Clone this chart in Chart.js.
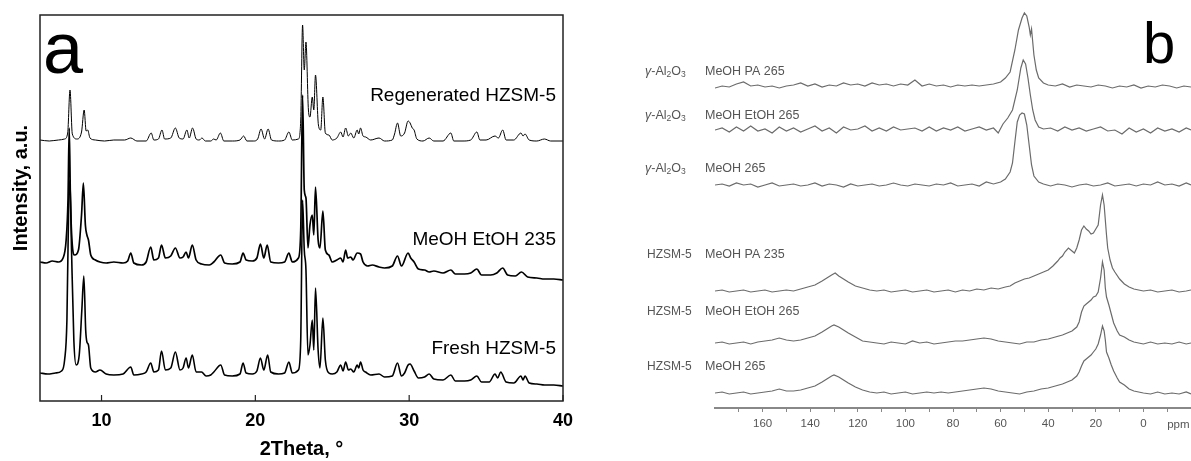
<!DOCTYPE html>
<html lang="en">
<head>
    <meta charset="UTF-8">
    <title>XRD and NMR of HZSM-5 / gamma-Al2O3</title>
    <style>
        body {
            margin: 0;
            background: #ffffff;
        }
        #wrap {
            position: relative;
            width: 1191px;
            height: 461px;
        }
        #chartA {
            position: absolute;
            left: 0;
            top: 0;
        }
        #chartB {
            position: absolute;
            left: 590px;
            top: 0;
        }
    </style>
    <script src="https://cdn.jsdelivr.net/npm/chart.js@4.4.0/dist/chart.umd.min.js"></script>
</head>
<body>

<div id="wrap">
    <canvas id="chartA" width="590" height="461"></canvas>
    <canvas id="chartB" width="601" height="461"></canvas>
</div>

<script>
    // ---------- panel a : XRD patterns, [2Theta (deg), stacked intensity]
    const xrdTicks = [10, 20, 30, 40];
    const xrdNames = ['Regenerated HZSM-5', 'MeOH EtOH 235', 'Fresh HZSM-5'];

    const regenerated = [[6.0,261],[6.6,260],[7.2,261],[7.6,262],[7.8,268],[7.95,311],[8.1,267],[8.4,262],[8.7,269],[8.87,291],[9.0,270],[9.1,271],[9.25,263],[9.6,261],[10.2,260],[10.8,261],[11.5,261],[11.9,263],[12.3,260],[12.9,260],[13.23,268],[13.4,261],[13.7,262],[13.93,271],[14.1,262],[14.5,263],[14.8,273],[15.05,263],[15.3,262],[15.55,271],[15.7,263],[15.92,273],[16.15,262],[16.35,261],[16.53,263],[16.75,260],[17.1,260],[17.29,262],[17.45,261],[17.73,268],[17.95,260],[18.5,260],[19.0,261],[19.24,265],[19.45,260],[19.9,260],[20.15,262],[20.37,272],[20.6,262],[20.83,272],[21.05,261],[21.5,260],[21.9,261],[22.18,269],[22.4,261],[22.8,262],[22.95,281],[23.07,376],[23.18,331],[23.29,359],[23.45,291],[23.55,284],[23.7,304],[23.8,291],[23.91,326],[24.1,276],[24.25,271],[24.39,304],[24.55,268],[24.78,266],[25.0,261],[25.3,263],[25.55,269],[25.7,264],[25.87,273],[26.05,265],[26.2,268],[26.4,263],[26.62,271],[26.72,267],[26.84,273],[27.0,265],[27.17,264],[27.5,261],[28.04,263],[28.4,260],[28.9,261],[29.05,267],[29.24,278],[29.45,265],[29.7,268],[29.93,280],[30.06,278],[30.2,273],[30.32,271],[30.5,262],[30.9,260],[31.3,263],[31.6,260],[32.2,260],[32.71,268],[32.9,260],[33.5,260],[34.0,261],[34.4,269],[34.6,261],[35.0,261],[35.58,265],[35.8,263],[36.08,271],[36.3,261],[36.8,261],[37.27,268],[37.4,265],[37.53,267],[37.8,261],[38.3,260],[38.79,262],[39.2,260],[40,260]];

    const meohEtoh235 = [[6.0,139],[6.4,138],[6.8,140],[7.2,139],[7.5,143],[7.7,161],[7.82,201],[7.9,273],[7.98,201],[8.1,156],[8.25,146],[8.5,151],[8.7,186],[8.82,218],[8.95,176],[9.05,166],[9.15,161],[9.3,146],[9.6,141],[9.9,139],[10.3,138],[10.8,139],[11.4,138],[11.7,140],[11.9,148],[12.1,138],[12.6,136],[12.9,139],[13.2,154],[13.4,141],[13.7,143],[13.9,156],[14.15,143],[14.5,145],[14.8,153],[15.1,143],[15.3,144],[15.5,149],[15.65,143],[15.9,156],[16.15,141],[16.5,137],[17.0,136],[17.3,139],[17.75,146],[18.0,138],[18.5,137],[19.0,139],[19.2,148],[19.4,141],[19.8,140],[20.1,143],[20.33,157],[20.55,143],[20.77,156],[21.0,139],[21.5,138],[21.9,139],[22.18,148],[22.4,139],[22.8,143],[22.95,171],[23.07,306],[23.18,211],[23.29,203],[23.42,153],[23.55,176],[23.7,186],[23.8,166],[23.91,214],[24.08,161],[24.2,153],[24.39,190],[24.55,151],[24.78,146],[25.0,139],[25.3,141],[25.55,143],[25.7,139],[25.87,151],[26.0,143],[26.2,144],[26.35,141],[26.62,148],[26.84,147],[27.0,139],[27.3,135],[27.6,136],[28.04,134],[28.4,133],[28.9,135],[29.24,145],[29.5,135],[29.93,148],[30.1,143],[30.32,139],[30.6,132],[31.0,131],[31.3,129],[31.6,130],[32.2,128],[32.71,131],[33.0,127],[33.6,127],[34.0,128],[34.4,132],[34.7,126],[35.3,126],[35.7,128],[36.08,133],[36.4,126],[36.9,125],[37.3,129],[37.7,124],[38.3,123],[38.8,122],[39.4,122],[40,121]];

    const freshHzsm5 = [[6.0,28],[6.5,27],[7.0,28],[7.4,30],[7.6,41],[7.75,81],[7.87,201],[7.95,221],[8.05,151],[8.2,61],[8.35,36],[8.55,46],[8.72,91],[8.85,125],[8.97,71],[9.05,59],[9.15,56],[9.3,33],[9.6,29],[9.9,31],[10.3,27],[10.8,26],[11.4,27],[11.9,34],[12.1,26],[12.6,27],[12.9,29],[13.2,38],[13.4,29],[13.7,31],[13.9,50],[14.15,31],[14.5,33],[14.8,49],[15.1,31],[15.3,33],[15.5,43],[15.65,33],[15.9,46],[16.15,29],[16.5,29],[16.8,25],[17.1,26],[17.3,29],[17.75,36],[18.0,26],[18.5,25],[19.0,27],[19.2,38],[19.4,28],[19.8,27],[20.1,30],[20.33,43],[20.55,31],[20.8,46],[21.0,29],[21.5,27],[21.9,28],[22.18,39],[22.4,28],[22.8,31],[22.95,61],[23.07,201],[23.18,151],[23.29,131],[23.42,46],[23.55,56],[23.7,81],[23.8,51],[23.91,113],[24.08,51],[24.2,33],[24.39,83],[24.55,41],[24.78,28],[25.0,27],[25.3,29],[25.55,36],[25.7,30],[25.87,39],[26.05,31],[26.2,32],[26.4,29],[26.62,36],[26.72,33],[26.84,39],[27.0,31],[27.17,29],[27.5,26],[28.04,27],[28.4,24],[28.9,25],[29.24,38],[29.5,25],[29.7,28],[29.93,36],[30.06,37],[30.32,30],[30.6,23],[31.0,24],[31.3,27],[31.6,22],[32.2,21],[32.71,26],[33.0,20],[33.6,20],[34.0,21],[34.4,25],[34.7,19],[35.2,19],[35.58,27],[35.75,23],[35.95,29],[36.3,19],[36.8,18],[37.27,25],[37.4,21],[37.53,25],[37.8,18],[38.3,17],[38.8,16],[39.4,16],[40,15]];

    // ---------- panel b : 13C NMR spectra, [ppm, stacked intensity]
    const ppmTicks = [160, 140, 120, 100, 80, 60, 40, 20, 0];
    const ppmMinor = [170, 160, 150, 140, 130, 120, 110, 100, 90, 80, 70, 60, 50, 40, 30, 20, 10, 0, -10];
    const nmrSupports = ['Al2O3', 'Al2O3', 'Al2O3', 'HZSM-5', 'HZSM-5', 'HZSM-5'];
    const nmrFeeds = ['MeOH PA 265', 'MeOH EtOH 265', 'MeOH 265', 'MeOH PA 235', 'MeOH EtOH 265', 'MeOH 265'];

    const alMeohPa265 = [[180,320],[177,322],[174,321],[171,324],[168,326],[165,322],[162,323],[159,321],[156,322],[153,320],[150,322],[147,323],[144,325],[141,322],[138,324],[135,321],[132,323],[129,322],[126,325],[123,323],[120,324],[117,322],[114,325],[111,323],[108,324],[105,322],[102,324],[99,323],[96,328],[93,322],[90,324],[87,322],[84,323],[81,321],[78,323],[75,322],[72,323],[69,322],[66,323],[63,324],[60,326],[58,330],[56,336],[54,358],[52.5,378],[51,390],[50,395],[49,392],[48,381],[47.5,373],[47,379],[46.5,366],[46,353],[45,338],[44,330],[42,325],[40,323],[37,322],[34,324],[31,321],[28,323],[25,322],[22,321],[19,323],[16,322],[13,320],[10,322],[7,321],[4,323],[1,320],[-2,322],[-5,321],[-8,323],[-11,322],[-14,320],[-17,322],[-20,321]];

    const alMeohEtoh265 = [[180,278],[177,280],[174,276],[171,281],[168,277],[165,282],[162,277],[159,279],[156,275],[153,281],[150,277],[147,280],[144,276],[141,279],[138,282],[135,277],[132,280],[129,275],[126,281],[123,278],[120,279],[117,282],[114,277],[111,280],[108,277],[105,281],[102,278],[99,279],[96,280],[93,277],[90,281],[87,277],[84,280],[81,278],[78,281],[75,277],[72,279],[69,281],[66,278],[63,280],[61,275],[59,284],[57,290],[55,298],[53,318],[51.5,340],[50.5,348],[49.5,344],[48.5,330],[47.5,313],[46.5,298],[45.5,288],[44,281],[42,279],[39,280],[36,277],[33,281],[30,278],[27,280],[24,277],[21,279],[18,281],[15,277],[12,278],[9,274],[6,280],[3,276],[0,279],[-3,275],[-6,280],[-9,277],[-12,279],[-15,276],[-18,280],[-20,278]];

    const alMeoh265 = [[180,223],[177,224],[174,222],[171,225],[168,223],[165,224],[162,221],[159,223],[156,225],[153,222],[150,223],[147,224],[144,222],[141,223],[138,225],[135,222],[132,224],[129,223],[126,221],[123,224],[120,222],[117,223],[114,224],[111,222],[108,223],[105,225],[102,223],[99,222],[96,224],[93,223],[90,222],[87,224],[84,223],[81,225],[78,222],[75,223],[72,224],[69,222],[66,226],[63,224],[60,226],[58,229],[56,236],[55,245],[54,266],[53,286],[52,293],[51,295],[50,294],[49,283],[48,263],[47,243],[46,232],[44,226],[42,224],[39,222],[36,224],[33,223],[30,221],[27,223],[24,224],[21,222],[18,223],[15,225],[12,222],[9,223],[6,224],[3,222],[0,224],[-3,223],[-6,226],[-9,223],[-12,224],[-15,222],[-18,225],[-20,223]];

    const zsmMeohPa235 = [[180,117],[177,118],[174,116],[171,117],[168,118],[165,116],[162,117],[159,118],[156,116],[153,117],[150,118],[147,117],[144,119],[141,121],[138,123],[135,127],[133,130],[131,133],[129.5,135],[128,132],[126,129],[124,126],[121,122],[118,120],[115,118],[112,117],[109,118],[106,116],[103,117],[100,118],[97,116],[94,117],[91,118],[88,116],[85,117],[82,118],[79,116],[76,118],[73,117],[70,119],[67,118],[64,120],[61,119],[58,121],[56,122],[54,125],[52,127],[50,129],[48,130],[46,132],[44,134],[42,136],[40,138],[38,142],[36,147],[35,150],[34,152],[33,156],[31.5,160],[30,157],[29,155],[28,160],[27,168],[26,178],[25,182],[24,179],[23,177],[22,174],[21,175],[20,179],[19,183],[18,203],[17.2,213],[16.5,203],[15.5,173],[15,160],[14,148],[13,140],[12,136],[10,129],[8,124],[6,121],[4,119],[2,118],[0,117],[-3,118],[-6,116],[-9,117],[-12,118],[-15,116],[-18,117],[-20,118]];

    const zsmMeohEtoh265 = [[180,65],[177,66],[174,64],[171,65],[168,66],[165,64],[162,66],[159,67],[156,68],[153,70],[150,68],[147,67],[144,68],[141,70],[138,72],[135,76],[133,79],[131,82],[130,83],[128,81],[126,78],[124,75],[121,71],[118,67],[115,66],[112,65],[109,64],[106,66],[103,65],[100,64],[97,67],[94,65],[91,66],[88,64],[85,65],[82,66],[79,67],[76,67],[73,68],[70,69],[67,70],[64,69],[61,67],[58,66],[55,65],[52,64],[49,66],[46,66],[43,68],[40,69],[37,71],[34,73],[32,75],[30,77],[28,81],[27,86],[26,96],[25,102],[24,104],[23,106],[22,108],[21,111],[20,112],[19,116],[18,130],[17.2,146],[16.5,138],[16,120],[15.5,111],[14.5,103],[13.5,94],[12.5,85],[11,77],[10,73],[8,71],[6,68],[4,66],[2,65],[0,64],[-3,66],[-6,64],[-9,65],[-12,64],[-15,66],[-18,64],[-20,65]];

    const zsmMeoh265 = [[180,15],[177,16],[174,14],[171,15],[168,16],[165,14],[162,15],[159,16],[156,17],[153,19],[150,17],[147,17],[144,18],[141,20],[138,22],[135,26],[133,29],[131,32],[130,33],[128,31],[126,28],[124,25],[121,21],[118,18],[115,16],[112,15],[109,16],[106,14],[103,15],[100,16],[97,14],[94,15],[91,16],[88,15],[85,16],[82,15],[79,16],[76,17],[73,18],[70,19],[67,20],[64,19],[61,17],[58,16],[55,15],[52,14],[49,16],[46,17],[43,19],[40,20],[37,22],[34,24],[32,26],[30,28],[28,32],[27,36],[26,42],[25,47],[24,49],[23,51],[22,53],[21,56],[20,59],[19,64],[18,73],[17.2,82],[16.5,77],[16,68],[15.5,56],[14.5,50],[13.5,43],[12.5,37],[11,30],[10,26],[8,23],[6,19],[4,17],[2,16],[0,15],[-3,14],[-6,16],[-9,14],[-12,15],[-15,14],[-18,16],[-20,14]];

    const FONT = '"Liberation Sans", Arial, sans-serif';
    const toXY = pts => pts.map(p => ({ x: p[0], y: p[1] }));

    function trace(pts, color, width, smooth) {
        const ds = {
            data: toXY(pts),
            borderColor: color,
            borderWidth: width,
            pointRadius: 0,
            fill: false,
            tension: 0
        };
        if (smooth) ds.cubicInterpolationMode = 'monotone';
        return ds;
    }

    // frame, inner ticks and texts of panel a
    const panelA = {
        id: 'panelA',
        afterDraw(chart) {
            const { ctx, chartArea: a, scales } = chart;
            ctx.save();
            ctx.strokeStyle = '#222';
            ctx.lineWidth = 1.5;
            ctx.strokeRect(a.left, a.top, a.right - a.left, a.bottom - a.top);
            ctx.lineWidth = 1.2;
            xrdTicks.forEach(v => {
                const px = scales.x.getPixelForValue(v);
                ctx.beginPath();
                ctx.moveTo(px, a.bottom);
                ctx.lineTo(px, a.bottom - 6);
                ctx.stroke();
            });
            ctx.fillStyle = '#000';
            ctx.font = '72px ' + FONT;
            ctx.textBaseline = 'alphabetic';
            ctx.fillText('a', 43, 73);
            ctx.font = '19px ' + FONT;
            ctx.textAlign = 'right';
            ctx.textBaseline = 'middle';
            const labelY = [96, 240, 349];
            xrdNames.forEach((t, i) => ctx.fillText(t, a.right - 7, labelY[i]));
            // y axis title, a bit above the middle as in the original
            ctx.translate(21, 188);
            ctx.rotate(-Math.PI / 2);
            ctx.textAlign = 'center';
            ctx.font = 'bold 20px ' + FONT;
            ctx.fillText('Intensity, a.u.', 0, 0);
            ctx.restore();
        }
    };

    // draws "γ-Al2O3" with real subscripts
    function drawAl2O3(ctx, x, y) {
        const parts = [
            ['γ', 'italic 12.5px ' + FONT, 0],
            ['-Al', '12.5px ' + FONT, 0],
            ['2', '8.5px ' + FONT, 3],
            ['O', '12.5px ' + FONT, 0],
            ['3', '8.5px ' + FONT, 3]
        ];
        parts.forEach(p => {
            ctx.font = p[1];
            ctx.fillText(p[0], x, y + p[2]);
            x += ctx.measureText(p[0]).width;
        });
    }

    const panelB = {
        id: 'panelB',
        afterDraw(chart) {
            const { ctx, scales } = chart;
            ctx.save();
            ctx.fillStyle = '#000';
            ctx.font = '58px ' + FONT;
            ctx.textBaseline = 'alphabetic';
            ctx.fillText('b', 553, 63);
            ctx.fillStyle = '#555';
            ctx.textBaseline = 'middle';
            const rowY = [72, 116, 169, 255, 312, 367];
            nmrFeeds.forEach((t, i) => {
                if (nmrSupports[i] === 'Al2O3') {
                    drawAl2O3(ctx, 55, rowY[i]);
                } else {
                    ctx.font = '12px ' + FONT;
                    ctx.fillText(nmrSupports[i], 57, rowY[i]);
                }
                ctx.font = '12.5px ' + FONT;
                ctx.fillText(t, 115, rowY[i]);
            });
            ctx.font = '11.5px ' + FONT;
            ctx.fillText('ppm', scales.x.getPixelForValue(-10), 425);
            ctx.restore();
        }
    };

    new Chart(document.getElementById('chartA'), {
        type: 'line',
        data: {
            datasets: [
                trace(regenerated, '#000', 1, true),
                trace(meohEtoh235, '#000', 1.7, true),
                trace(freshHzsm5, '#000', 1.6, true)
            ]
        },
        options: {
            responsive: false,
            animation: false,
            layout: { padding: { top: 15, right: 27, left: 0, bottom: 0 } },
            plugins: { legend: { display: false }, tooltip: { enabled: false } },
            scales: {
                x: {
                    type: 'linear',
                    min: 6,
                    max: 40,
                    afterBuildTicks: s => { s.ticks = xrdTicks.map(v => ({ value: v })); },
                    ticks: { color: '#000', padding: 1, maxRotation: 0, font: { family: FONT, size: 18, weight: 'bold' } },
                    grid: { display: false },
                    border: { display: false },
                    title: {
                        display: true,
                        text: '2Theta, °',
                        color: '#000',
                        padding: { top: 0, bottom: 0 },
                        font: { family: FONT, size: 20, weight: 'bold' }
                    },
                    afterFit: s => { s.height = 60; }
                },
                y: {
                    min: 0,
                    max: 386,
                    ticks: { display: false },
                    grid: { display: false },
                    border: { display: false },
                    afterFit: s => { s.width = 40; }
                }
            }
        },
        plugins: [panelA]
    });

    const nmrGray = '#6b6b6b';
    new Chart(document.getElementById('chartB'), {
        type: 'line',
        data: {
            datasets: [
                trace(alMeohPa265, nmrGray, 1.2, false),
                trace(alMeohEtoh265, nmrGray, 1.2, false),
                trace(alMeoh265, nmrGray, 1.2, false),
                trace(zsmMeohPa235, nmrGray, 1.2, false),
                trace(zsmMeohEtoh265, nmrGray, 1.2, false),
                trace(zsmMeoh265, nmrGray, 1.2, false)
            ]
        },
        options: {
            responsive: false,
            animation: false,
            layout: { padding: { top: 0, right: 0, left: 125, bottom: 0 } },
            plugins: { legend: { display: false }, tooltip: { enabled: false } },
            scales: {
                x: {
                    type: 'linear',
                    reverse: true,
                    min: -20,
                    max: 180,
                    afterBuildTicks: s => { s.ticks = ppmMinor.map(v => ({ value: v })); },
                    ticks: {
                        autoSkip: false,
                        maxRotation: 0,
                        padding: 5,
                        color: '#555',
                        font: { family: FONT, size: 11.5 },
                        callback: v => ppmTicks.includes(v) ? String(v) : ''
                    },
                    grid: { drawOnChartArea: false, drawTicks: true, tickLength: 4, color: '#888', lineWidth: 1 },
                    border: { display: true, color: '#888', width: 2 },
                    afterFit: s => { s.height = 53; }
                },
                y: { display: false, min: 0, max: 408 }
            }
        },
        plugins: [panelB]
    });
</script>

</body>
</html>
